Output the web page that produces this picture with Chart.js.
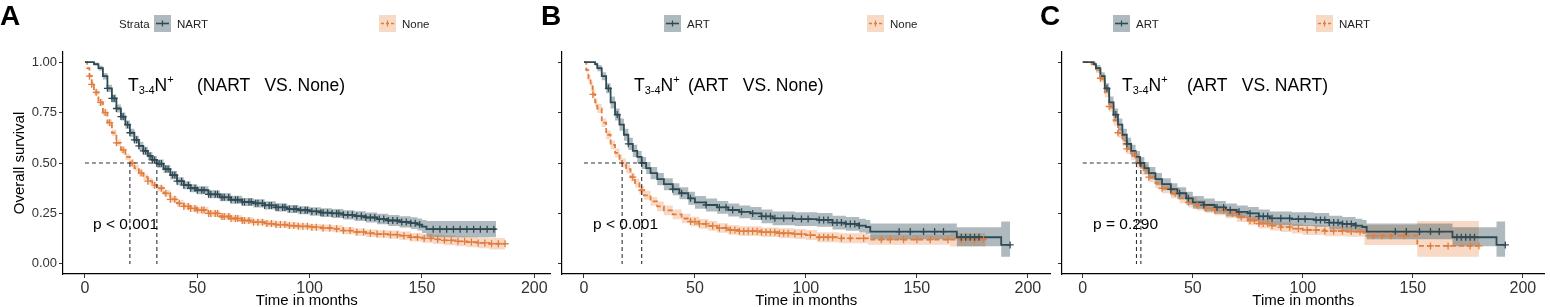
<!DOCTYPE html>
<html>
<head>
<meta charset="utf-8">
<script src="https://cdn.jsdelivr.net/npm/chart.js@4.4.0/dist/chart.umd.min.js"></script>
<style>
  html, body { margin: 0; padding: 0; background: #fff; overflow: hidden; }
  body { width: 1550px; height: 307px; position: relative; font-family: "Liberation Sans", Arial, sans-serif; color: #000; }
  canvas { position: absolute; top: 0; }
  .lbl { position: absolute; line-height: 1; white-space: pre; }
  .letter { font-size: 28px; font-weight: bold; top: 2px; }
  .ttl { font-size: 17.5px; top: 77px; }
  .ttl sub, .ttl sup { font-size: 11px; line-height: 0; }
  .ttl sub { vertical-align: -3px; }
  .ttl sup { vertical-align: 8px; }
  .pval { font-size: 15.5px; top: 216px; }
  .leg { font-size: 11.5px; top: 19px; color: #222; }
  .key { position: absolute; top: 15px; }
</style>
</head>
<body>
<canvas id="panelA" width="556" height="312" style="left:0px"></canvas>
<canvas id="panelB" width="516" height="312" style="left:540px"></canvas>
<canvas id="panelC" width="510" height="312" style="left:1040px"></canvas>

<div class="lbl letter" style="left:0px">A</div>
<div class="lbl letter" style="left:541px">B</div>
<div class="lbl letter" style="left:1040px">C</div>

<div class="lbl leg" style="left:119px">Strata</div>
<div id="legends"></div>

<div class="lbl ttl" style="left:128px">T<sub>3-4</sub>N<sup>+</sup></div>
<div class="lbl ttl" style="left:197px">(NART   VS. None)</div>
<div class="lbl ttl" style="left:634px">T<sub>3-4</sub>N<sup>+</sup></div>
<div class="lbl ttl" style="left:688px">(ART   VS. None)</div>
<div class="lbl ttl" style="left:1122px">T<sub>3-4</sub>N<sup>+</sup></div>
<div class="lbl ttl" style="left:1187px">(ART   VS. NART)</div>

<div class="lbl pval" style="left:93px">p &lt; 0.001</div>
<div class="lbl pval" style="left:593px">p &lt; 0.001</div>
<div class="lbl pval" style="left:1093px">p = 0.290</div>

<script>
// axis ticks
const xTicks = [0, 50, 100, 150, 200];
const yTicks = [0, 0.25, 0.5, 0.75, 1];

// Panel A - NART
const tA1 = [0,4,6,8,10,12,14,16,18,20,22,24,26,28,30,32,35,38,41,44,47,50,55,60,65,70,75,80,85,90,95,100,105,110,115,120,125,130,135,140,145,148,150,152,183];
const sA1 = [1,0.99,0.97,0.93,0.87,0.82,0.77,0.73,0.69,0.65,0.615,0.585,0.56,0.535,0.515,0.497,0.47,0.44,0.41,0.39,0.375,0.365,0.345,0.33,0.318,0.307,0.30,0.29,0.28,0.272,0.266,0.26,0.254,0.25,0.243,0.237,0.23,0.222,0.215,0.208,0.202,0.195,0.185,0.172,0.172];
const hiA1 = [1,0.998,0.982,0.946,0.888,0.84,0.79,0.75,0.71,0.67,0.635,0.605,0.58,0.555,0.535,0.517,0.49,0.46,0.43,0.41,0.395,0.385,0.365,0.35,0.338,0.327,0.32,0.31,0.30,0.292,0.286,0.281,0.276,0.272,0.266,0.261,0.255,0.248,0.242,0.236,0.231,0.225,0.217,0.212,0.212];
const loA1 = [1,0.982,0.958,0.914,0.852,0.80,0.75,0.71,0.67,0.63,0.595,0.565,0.54,0.515,0.495,0.477,0.45,0.42,0.39,0.37,0.355,0.345,0.325,0.31,0.298,0.287,0.28,0.27,0.26,0.252,0.246,0.239,0.232,0.228,0.22,0.213,0.205,0.196,0.188,0.18,0.173,0.165,0.153,0.132,0.132];
const cA1 = [10,12,13,14,16,17,19,20,22,23,24,26,27,29,30,31,33,34,36,37,39,40,41,43,44,46,47,49,50,52,53,55,56,58,59,61,62,64,65,67,68,70,71,73,74,76,77,79,80,82,83,85,86,88,89,91,93,94,96,98,99,101,103,105,106,108,110,112,113,115,117,119,121,123,125,127,129,131,133,135,137,139,141,143,145,147,149,155,158,161,164,167,170,173,176,179,182];

// Panel A - None
const tA2 = [0,1,2,3,4,6,8,10,12,14,16,18,20,22,24,26,28,30,32,35,38,41,44,47,50,55,60,65,70,75,80,85,90,95,100,105,110,115,120,125,130,135,140,145,150,155,160,165,170,175,180,187];
const sA2 = [1,0.97,0.93,0.89,0.85,0.80,0.75,0.70,0.65,0.60,0.565,0.53,0.50,0.475,0.45,0.43,0.41,0.39,0.375,0.35,0.32,0.30,0.285,0.275,0.267,0.25,0.235,0.225,0.215,0.207,0.20,0.195,0.19,0.186,0.182,0.178,0.174,0.165,0.158,0.152,0.148,0.145,0.14,0.132,0.127,0.122,0.117,0.112,0.108,0.104,0.10,0.10];
const hiA2 = [1,0.978,0.94,0.902,0.864,0.816,0.766,0.716,0.666,0.616,0.581,0.546,0.516,0.491,0.466,0.446,0.426,0.406,0.391,0.366,0.336,0.316,0.301,0.291,0.283,0.266,0.251,0.241,0.231,0.223,0.216,0.211,0.206,0.202,0.198,0.195,0.191,0.183,0.176,0.171,0.167,0.165,0.16,0.153,0.149,0.145,0.141,0.137,0.134,0.131,0.128,0.128];
const loA2 = [1,0.962,0.92,0.878,0.836,0.784,0.734,0.684,0.634,0.584,0.549,0.514,0.484,0.459,0.434,0.414,0.394,0.374,0.359,0.334,0.304,0.284,0.269,0.259,0.251,0.234,0.219,0.209,0.199,0.191,0.184,0.179,0.174,0.17,0.166,0.161,0.157,0.147,0.14,0.133,0.129,0.125,0.12,0.111,0.105,0.099,0.093,0.087,0.082,0.077,0.072,0.072];
const cA2 = [2,3,5,7,9,11,14,17,21,25,28,31,34,36,38,40,42,44,46,47,49,50,52,53,55,56,58,59,61,62,64,65,67,68,70,71,73,75,77,79,81,83,85,87,89,91,93,95,97,99,101,103,106,109,112,115,118,121,124,127,130,133,136,139,142,145,148,151,154,157,160,163,166,169,172,175,178,181,184,187];

// ART (panels B and C)
const tArt = [0,3,5,6,8,10,12,14,16,18,20,22,24,26,28,30,33,36,40,43,47,50,55,60,65,70,75,80,85,95,105,112,118,124,127,129,168,188,192];
const sArt = [1,1,0.99,0.97,0.93,0.87,0.80,0.74,0.69,0.64,0.595,0.56,0.53,0.50,0.475,0.45,0.42,0.395,0.37,0.35,0.325,0.305,0.292,0.28,0.267,0.258,0.25,0.236,0.226,0.222,0.218,0.205,0.198,0.19,0.183,0.16,0.132,0.094,0.094];
const hiArt = [1,1,0.998,0.985,0.95,0.895,0.83,0.77,0.72,0.67,0.625,0.59,0.56,0.53,0.505,0.48,0.45,0.425,0.40,0.38,0.357,0.337,0.324,0.312,0.299,0.29,0.282,0.27,0.26,0.256,0.252,0.239,0.232,0.224,0.217,0.20,0.182,0.21,0.21];
const loArt = [1,1,0.982,0.955,0.91,0.845,0.77,0.71,0.66,0.61,0.565,0.53,0.50,0.47,0.445,0.42,0.39,0.365,0.34,0.32,0.293,0.273,0.26,0.248,0.235,0.226,0.218,0.202,0.192,0.188,0.184,0.171,0.164,0.156,0.149,0.122,0.088,0.036,0.036];
const cArt = [11,15,20,26,40,44,48,55,61,64,67,71,76,80,82,84,86,90,94,98,101,106,108,110,112,114,116,118,120,122,124,142,147,153,158,162,170,172,174,176,178,192];

// Panel B - None
const tB2 = [0,1,2,3,4,5,6,8,10,12,14,16,17.2,19,21,23,25,27,30,33,36,40,44,48,52,56,60,65,70,80,88,95,100,105,115,128,165,181];
const sB2 = [1,0.96,0.92,0.88,0.84,0.80,0.77,0.70,0.64,0.59,0.55,0.52,0.50,0.47,0.43,0.40,0.365,0.34,0.31,0.285,0.265,0.245,0.225,0.21,0.198,0.188,0.178,0.168,0.162,0.157,0.152,0.148,0.143,0.132,0.127,0.12,0.12,0.12];
const hiB2 = [1,0.972,0.936,0.902,0.862,0.822,0.792,0.722,0.662,0.612,0.572,0.542,0.522,0.492,0.452,0.422,0.387,0.362,0.332,0.309,0.289,0.269,0.249,0.234,0.222,0.212,0.202,0.192,0.186,0.181,0.177,0.173,0.168,0.157,0.152,0.145,0.152,0.152];
const loB2 = [1,0.948,0.904,0.858,0.818,0.778,0.748,0.678,0.618,0.568,0.528,0.498,0.478,0.448,0.408,0.378,0.343,0.318,0.288,0.261,0.241,0.221,0.201,0.186,0.174,0.164,0.154,0.144,0.138,0.133,0.127,0.123,0.118,0.107,0.102,0.095,0.086,0.086];
const cB2 = [4,22,26,48,50,52,55,58,61,64,66,68,70,72,74,76,78,80,82,84,86,88,90,92,95,98,102,106,108,110,112,116,120,126,134,138,144,150,156,164,170,176,180];

// Panel C - NART
const tC2 = [0,4,6,8,10,12,14,16,18,20,22,24.4,27,30,33,36,40,44,48,52,56,60,65,70,75,80,85,90,95,100,110,120,128,152,180];
const sC2 = [1,0.99,0.96,0.92,0.85,0.78,0.71,0.65,0.61,0.57,0.54,0.50,0.465,0.43,0.40,0.375,0.35,0.325,0.305,0.29,0.276,0.265,0.25,0.232,0.215,0.20,0.19,0.182,0.175,0.168,0.163,0.16,0.14,0.089,0.089];
const hiC2 = [1,1,0.975,0.94,0.875,0.805,0.735,0.675,0.635,0.595,0.565,0.525,0.49,0.455,0.425,0.4,0.375,0.35,0.33,0.315,0.3,0.289,0.274,0.256,0.239,0.224,0.214,0.206,0.199,0.193,0.189,0.186,0.193,0.213,0.213];
const loC2 = [1,0.98,0.945,0.9,0.825,0.755,0.685,0.625,0.585,0.545,0.515,0.475,0.44,0.405,0.375,0.35,0.325,0.30,0.28,0.265,0.252,0.241,0.226,0.208,0.191,0.176,0.166,0.158,0.151,0.143,0.137,0.134,0.094,0.036,0.036];
const cC2 = [8,12,16,20,24,30,36,42,48,52,56,60,64,68,72,76,78,80,82,84,86,90,94,98,102,106,110,114,118,122,126,132,136,140,146,158,166,176,180];

// median survival times
const mediansA = [20, 32];
const mediansB = [17.2, 26];
const mediansC = [24.4, 26.4];

const darkCol = '#2e4a55';
const darkBand = 'rgba(46,74,86,0.38)';
const orangeCol = '#e27d3e';
const orangeBand = 'rgba(229,128,63,0.3)';

function stepAt(times, surv, x) {
    let v = surv[0];
    for (let i = 0; i < times.length; i++) {
        if (times[i] <= x) v = surv[i];
    }
    return v;
}

function curveSets(times, surv, lo, hi, censor, color, band, dashed) {
    const pts = arr => times.map((t, i) => ({ x: t, y: arr[i] }));
    return [
        { data: pts(surv), borderColor: color, borderWidth: 1.8, borderDash: dashed ? [5, 3] : [],
          stepped: 'before', pointRadius: 0, fill: false, order: 1 },
        { data: censor.map(t => ({ x: t, y: stepAt(times, surv, t) })), showLine: false,
          pointStyle: 'cross', pointRadius: 3.5, borderColor: color, borderWidth: 1.3, order: 0 },
        { data: pts(hi), borderColor: 'rgba(0,0,0,0)', borderWidth: 1, stepped: 'before',
          pointRadius: 0, fill: false, order: 3 },
        { data: pts(lo), borderColor: 'rgba(0,0,0,0)', borderWidth: 1, stepped: 'before',
          pointRadius: 0, fill: '-1', backgroundColor: band, order: 3 }
    ];
}

// dashed lines at median survival
const medianPlugin = {
    id: 'medianLines',
    afterDatasetsDraw(chart, args, opts) {
        const { ctx, scales: { x, y } } = chart;
        const meds = opts.values;
        ctx.save();
        ctx.strokeStyle = '#333';
        ctx.lineWidth = 1.1;
        ctx.setLineDash([4, 3]);
        ctx.beginPath();
        ctx.moveTo(x.getPixelForValue(0), y.getPixelForValue(0.5));
        ctx.lineTo(x.getPixelForValue(Math.max(...meds)), y.getPixelForValue(0.5));
        meds.forEach(m => {
            ctx.moveTo(x.getPixelForValue(m), y.getPixelForValue(0.5));
            ctx.lineTo(x.getPixelForValue(m), y.getPixelForValue(0));
        });
        ctx.stroke();
        ctx.restore();
    }
};

function crearPanel(id, datasets, medians, cfg) {
    new Chart(document.getElementById(id), {
        type: 'line',
        data: { datasets: datasets },
        plugins: [medianPlugin],
        options: {
            responsive: false,
            animation: false,
            layout: { padding: { left: 0, right: cfg.padRight, top: 52, bottom: 0 } },
            plugins: {
                legend: { display: false },
                tooltip: { enabled: false },
                medianLines: { values: medians }
            },
            scales: {
                x: {
                    type: 'linear', min: cfg.xMin, max: cfg.xMax,
                    afterBuildTicks: s => { s.ticks = xTicks.map(v => ({ value: v })); },
                    afterFit: s => { s.height = 38; },
                    grid: { drawOnChartArea: false, tickLength: 4, color: '#333' },
                    border: { color: '#000', width: 1.2 },
                    ticks: { color: '#333', font: { size: 16 }, padding: 1, callback: v => String(v) },
                    title: { display: true, text: 'Time in months', color: '#000',
                             font: { size: 15 }, padding: { top: 0, bottom: 2 } }
                },
                y: {
                    min: -0.05, max: 1.05,
                    afterBuildTicks: s => { s.ticks = yTicks.map(v => ({ value: v })); },
                    afterFit: s => { s.width = cfg.yWidth; },
                    grid: { drawOnChartArea: false, tickLength: 4, color: '#333' },
                    border: { color: '#000', width: 1.2 },
                    ticks: { color: '#333', font: { size: 13 }, padding: 2,
                             callback: v => cfg.yLabels ? v.toFixed(2) : '' },
                    title: { display: cfg.yLabels, text: 'Overall survival', color: '#000',
                             font: { size: 15 }, padding: { top: 11, bottom: 0 } }
                }
            }
        }
    });
}

crearPanel('panelA',
    curveSets(tA1, sA1, loA1, hiA1, cA1, darkCol, darkBand, false)
        .concat(curveSets(tA2, sA2, loA2, hiA2, cA2, orangeCol, orangeBand, true)),
    mediansA, { xMin: -9.77, xMax: 207.3, yWidth: 63, padRight: 4, yLabels: true });

crearPanel('panelB',
    curveSets(tArt, sArt, loArt, hiArt, cArt, darkCol, darkBand, false)
        .concat(curveSets(tB2, sB2, loB2, hiB2, cB2, orangeCol, orangeBand, true)),
    mediansB, { xMin: -9.9, xMax: 210.3, yWidth: 22, padRight: 4, yLabels: false });

crearPanel('panelC',
    curveSets(tArt, sArt, loArt, hiArt, cArt, darkCol, darkBand, false)
        .concat(curveSets(tC2, sC2, loC2, hiC2, cC2, orangeCol, orangeBand, true)),
    mediansC, { xMin: -9.44, xMax: 209.9, yWidth: 22, padRight: 0, yLabels: false });

// legend keys
const legendItems = [
    { left: 154, text: 'NART', dark: true }, { left: 379, text: 'None', dark: false },
    { left: 664, text: 'ART', dark: true }, { left: 867, text: 'None', dark: false },
    { left: 1113, text: 'ART', dark: true }, { left: 1316, text: 'NART', dark: false }
];
const legendDiv = document.getElementById('legends');
legendItems.forEach(it => {
    const col = it.dark ? darkCol : orangeCol;
    const fondo = it.dark ? darkBand : orangeBand;
    const dash = it.dark ? '' : 'stroke-dasharray="3,2"';
    legendDiv.innerHTML += `
        <svg class="key" style="left:${it.left}px" width="17" height="17">
            <rect width="17" height="17" fill="${fondo}"/>
            <line x1="2" y1="8.5" x2="15" y2="8.5" stroke="${col}" stroke-width="1.6" ${dash}/>
            <line x1="8.5" y1="5.5" x2="8.5" y2="11.5" stroke="${col}" stroke-width="1.2"/>
        </svg>
        <div class="lbl leg" style="left:${it.left + 23}px">${it.text}</div>`;
});
</script>
</body>
</html>
